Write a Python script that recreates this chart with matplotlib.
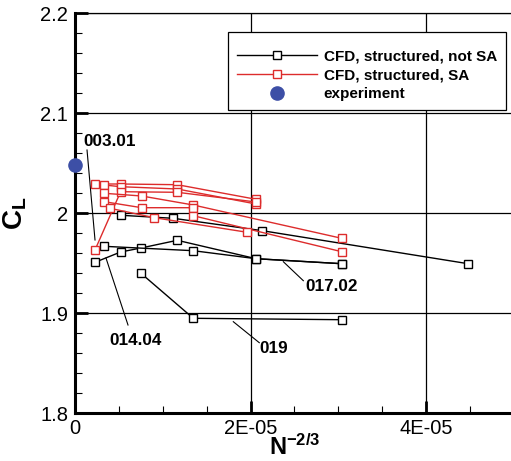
import numpy as np
import matplotlib.pyplot as plt
from matplotlib.ticker import MultipleLocator, FixedLocator, FixedFormatter

plt.rcParams['font.family'] = ['Liberation Sans', 'DejaVu Sans']
plt.rcParams['mathtext.fontset'] = 'custom'
plt.rcParams['mathtext.rm'] = 'Liberation Sans'
plt.rcParams['mathtext.bf'] = 'Liberation Sans:bold'

# x values are in units of 1E-05 (N^-2/3)
SCALE = 1e-5

# CFD, structured, not SA (black)
black_x = [
    [0.528, 1.12, 2.135, 4.48],
    [0.228, 0.52, 0.752, 1.166, 2.063, 3.039],
    [0.33, 1.348, 2.063, 3.039],
    [0.752, 1.348, 3.039],
]
black_y = [
    [1.9977, 1.9947, 1.9823, 1.9493],
    [1.9507, 1.961, 1.965, 1.9727, 1.9543, 1.9493],
    [1.9667, 1.9623, 1.9543, 1.9493],
    [1.9397, 1.8947, 1.8933],
]

# CFD, structured, SA (red)
red_x = [
    [0.228, 0.52, 1.166, 2.063],
    [0.334, 0.52, 1.166, 2.063],
    [0.228, 0.52, 1.166, 2.063],
    [0.334, 0.76, 1.348, 3.039],
    [0.334, 0.76, 1.348, 1.348, 3.039],
    [0.399, 0.904, 1.964],
]
red_y = [
    [2.029, 2.029, 2.0283, 2.0137],
    [2.028, 2.0263, 2.024, 2.009],
    [1.963, 2.0213, 2.0207, 2.011],
    [2.0197, 2.017, 2.008, 1.9747],
    [2.0113, 2.0053, 2.0053, 1.9973, 1.9613],
    [2.0047, 1.9953, 1.9807],
]

exp_x = [0.0]
exp_y = [2.048]

# case labels: text, text position, leader start, leader end
labels = ['003.01', '014.04', '017.02', '019']
label_pos = [(0.40, 2.072), (0.695, 1.873), (2.929, 1.927), (2.268, 1.864)]
leader_from = [(0.137, 2.063), (0.604, 1.888), (2.602, 1.9323), (2.10, 1.8703)]
leader_to = [(0.228, 1.973), (0.353, 1.955), (2.374, 1.9513), (1.804, 1.8913)]

RED = '#dd2c2c'
BLUE = '#3d4fa6'

fig = plt.figure(figsize=(5.11, 4.61), dpi=100)
ax = fig.add_axes([75 / 511, 48 / 461, 438.75 / 511, 400 / 461])

for i, (xs, ys) in enumerate(zip(black_x, black_y)):
    ax.plot(np.array(xs) * SCALE, ys, color='black', lw=1.0, marker='s', ms=5.5,
            mfc='white', mec='black', mew=1.0, zorder=3,
            label='CFD, structured, not SA' if i == 0 else None)

for i, (xs, ys) in enumerate(zip(red_x, red_y)):
    ax.plot(np.array(xs) * SCALE, ys, color=RED, lw=1.0, marker='s', ms=5.5,
            mfc='white', mec=RED, mew=1.0, zorder=4,
            label='CFD, structured, SA' if i == 0 else None)

ax.plot(np.array(exp_x) * SCALE, exp_y, ls='none', marker='o', ms=9.5,
        color=BLUE, zorder=5, clip_on=False, label='experiment')

for txt, pos, p0, p1 in zip(labels, label_pos, leader_from, leader_to):
    ax.plot([p0[0] * SCALE, p1[0] * SCALE], [p0[1], p1[1]], color='black', lw=0.8, zorder=2)
    ax.text(pos[0] * SCALE, pos[1], txt, fontsize=12.3, fontweight='bold',
            ha='center', va='center', zorder=6)

ax.set_xlim(0, 5e-5)
ax.set_ylim(1.8, 2.2)

ax.xaxis.set_major_locator(FixedLocator([0, 2e-5, 4e-5]))
ax.xaxis.set_major_formatter(FixedFormatter(['0', '2E-05', '4E-05']))
ax.xaxis.set_minor_locator(MultipleLocator(0.5e-5))
ax.yaxis.set_major_locator(FixedLocator([1.8, 1.9, 2.0, 2.1, 2.2]))
ax.yaxis.set_major_formatter(FixedFormatter(['1.8', '1.9', '2', '2.1', '2.2']))
ax.yaxis.set_minor_locator(MultipleLocator(0.02))

ax.tick_params(which='both', direction='in', labelsize=14.5, colors='black')
ax.tick_params(which='major', length=9, width=2)
ax.tick_params(which='minor', length=5, width=0.8)
ax.tick_params(axis='x', pad=4)
ax.tick_params(axis='y', pad=5)

ax.grid(True, which='major', color='black', lw=0.9)
ax.set_axisbelow(True)
ax.spines['left'].set_linewidth(2.2)
ax.spines['bottom'].set_linewidth(2.2)
ax.spines['top'].set_linewidth(0.9)
ax.spines['right'].set_linewidth(0.9)

ax.set_xlabel(r'$\mathbf{N^{-2/3}}$', fontsize=17, labelpad=-2)
ax.set_ylabel(r'$\mathbf{C_L}$', fontsize=20, labelpad=8)

leg = ax.legend(loc='upper right', bbox_to_anchor=(506 / 511, 1 - 32 / 461),
                bbox_transform=fig.transFigure, borderaxespad=0,
                prop={'weight': 'bold', 'size': 11},
                title=' ', title_fontsize=3,
                handlelength=5.2, handletextpad=0.45, labelspacing=0.3,
                borderpad=0.6, fancybox=False, framealpha=1, edgecolor='black',
                numpoints=1, markerscale=1.0)
leg.get_frame().set_linewidth(0.9)

fig.savefig('out.png', dpi=100)
